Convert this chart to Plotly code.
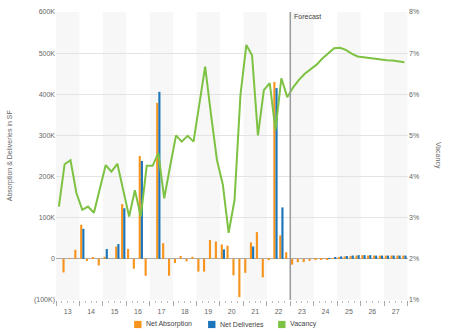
import plotly.graph_objects as go

years = list(range(2013, 2028))
quarter_days = ["02-15", "05-15", "08-15", "11-15"]
quarters = [f"{y}-{d}" for y in years for d in quarter_days]

# Net absorption (thousands of SF), 2013Q1 .. 2027Q4
net_absorption = [
    0, -33, 2, 22,
    83, -5, 4, -16,
    5, 0, 30, 133,
    24, -24, 250, -41,
    0, 379, 38, -41,
    -10, 7, -6, 5,
    -31, -31, 46, 42,
    35, 32, -40, -93,
    -34, 40, 65, -45,
    -3, 430, 57, 16,
    -14, -8, -8, -5,
    -3, -2, -1, 2,
    4, 6, 7, 8,
    9, 8, 8, 8,
    8, 8, 8, 8,
]

# Net deliveries (thousands of SF)
net_deliveries = [
    0, 0, 0, 0,
    73, 0, 0, 0,
    24, 0, 36, 123,
    0, 0, 238, 0,
    0, 406, 0, 0,
    0, 0, 0, 0,
    0, 0, 0, 0,
    23, 0, 0, 0,
    0, 30, 0, 0,
    0, 415, 125, 0,
    0, 0, 0, 0,
    0, 0, 2, 4,
    6, 7, 8, 9,
    9, 9, 8, 8,
    8, 8, 8, 8,
]

# Vacancy (%)
vacancy = [
    3.27, 4.30, 4.40, 3.60,
    3.19, 3.27, 3.12, 3.67,
    4.28, 4.12, 4.31, 3.67,
    3.03, 3.67, 3.03, 4.26,
    4.26, 4.57, 3.47, 4.25,
    5.00, 4.85, 4.99, 4.85,
    5.75, 6.67, 5.50, 4.40,
    3.80, 2.63, 3.43, 5.98,
    7.20, 6.95, 5.00, 6.10,
    6.27, 5.13, 6.39, 5.93,
    6.17, 6.35, 6.50, 6.62,
    6.72, 6.87, 7.00, 7.12,
    7.13, 7.08, 6.99, 6.92,
    6.90, 6.88, 6.86, 6.85,
    6.83, 6.82, 6.80, 6.78,
]

left_ticks = [-100, 0, 100, 200, 300, 400, 500, 600]
left_labels = ["(100K)", "0", "100K", "200K", "300K", "400K", "500K", "600K"]
right_ticks = [1, 2, 3, 4, 5, 6, 7, 8]
right_labels = ["1%", "2%", "3%", "4%", "5%", "6%", "7%", "8%"]

series_names = ["Net Absorption", "Net Deliveries", "Vacancy"]
forecast_start = "2023-01-01"

ORANGE = "#F7941D"
BLUE = "#1B75BB"
GREEN = "#7DC242"
colors = [ORANGE, BLUE, GREEN]
FONT = "Liberation Sans, Arial, sans-serif"

fig = go.Figure()
fig.add_trace(go.Bar(x=quarters, y=net_absorption, name=series_names[0],
                     marker=dict(color=ORANGE, line=dict(width=0)), yaxis="y"))
fig.add_trace(go.Bar(x=quarters, y=net_deliveries, name=series_names[1],
                     marker=dict(color=BLUE, line=dict(width=0)), yaxis="y"))
fig.add_trace(go.Scatter(x=quarters, y=vacancy, name=series_names[2], mode="lines",
                         line=dict(color=GREEN, width=2), yaxis="y2"))

shapes = []
for i, y in enumerate(years):
    if i % 2 == 0:
        shapes.append(dict(type="rect", xref="x", yref="paper",
                           x0=f"{y}-01-01", x1=f"{y+1}-01-01", y0=0, y1=1,
                           fillcolor="#f7f7f7", line=dict(width=0), layer="below"))
shapes.append(dict(type="line", xref="x", yref="paper", x0=forecast_start,
                   x1=forecast_start, y0=0, y1=1.0,
                   line=dict(color="#9a9a9a", width=1.5)))

annotations = [
    dict(text="Absorption & Deliveries in SF", xref="paper", yref="paper",
         x=-0.13, y=0.5, textangle=-90, showarrow=False,
         font=dict(size=7, color="#666"), xanchor="center", yanchor="middle"),
    dict(text="Vacancy", xref="paper", yref="paper", x=1.085, y=0.5,
         textangle=90, showarrow=False, font=dict(size=7, color="#666"),
         xanchor="center", yanchor="middle"),
    dict(text="Forecast", xref="x", yref="paper", x=forecast_start, y=0.985,
         xanchor="left", yanchor="middle", showarrow=False, xshift=2,
         font=dict(size=7, color="#444")),
]

# manual legend (square swatch + text), positioned in paper coordinates
legend_x = [0.222, 0.432, 0.631]
sq_w, sq_h, leg_y = 0.021, 0.025, -0.085
for name, col, lx in zip(series_names, colors, legend_x):
    shapes.append(dict(type="rect", xref="paper", yref="paper",
                       x0=lx, x1=lx + sq_w, y0=leg_y - sq_h / 2, y1=leg_y + sq_h / 2,
                       fillcolor=col, line=dict(width=0)))
    annotations.append(dict(text=name, xref="paper", yref="paper",
                            x=lx + sq_w + 0.008, y=leg_y, xanchor="left",
                            yanchor="middle", showarrow=False,
                            font=dict(size=7, color="#444")))

fig.update_layout(
    width=450, height=332,
    margin=dict(l=56, r=42, t=12, b=32, autoexpand=False),
    paper_bgcolor="white", plot_bgcolor="white",
    font=dict(family=FONT, size=7, color="#666"),
    barmode="group", bargap=0.25, bargroupgap=0,
    shapes=shapes,
    showlegend=False,
    xaxis=dict(type="date", range=["2013-01-01", "2028-01-10"],
               tick0="2013-01-01", dtick="M12", tickformat="%y",
               ticklabelmode="period", ticks="outside", ticklen=5,
               tickcolor="#aaa", showgrid=False, zeroline=False, showline=False,
               tickfont=dict(size=7, color="#666"),
               minor=dict(dtick="M3", ticks="outside", ticklen=2,
                          tickcolor="#bbb", showgrid=False)),
    yaxis=dict(range=[-100, 600], tickvals=left_ticks, ticktext=left_labels,
               showgrid=True, gridcolor="#e3e3e3", gridwidth=1,
               zeroline=True, zerolinecolor="#aaa", zerolinewidth=1,
               showline=False, ticks="", tickfont=dict(size=7, color="#666")),
    yaxis2=dict(range=[1, 8], tickvals=right_ticks, ticktext=right_labels,
                overlaying="y", side="right", showgrid=False, zeroline=False,
                showline=False, ticks="", tickfont=dict(size=7, color="#666")),
    annotations=annotations,
)

fig.write_html("out.html",
               config={"displayModeBar": False},
               post_script="document.body.style.margin='0';document.body.style.overflow='hidden';")
